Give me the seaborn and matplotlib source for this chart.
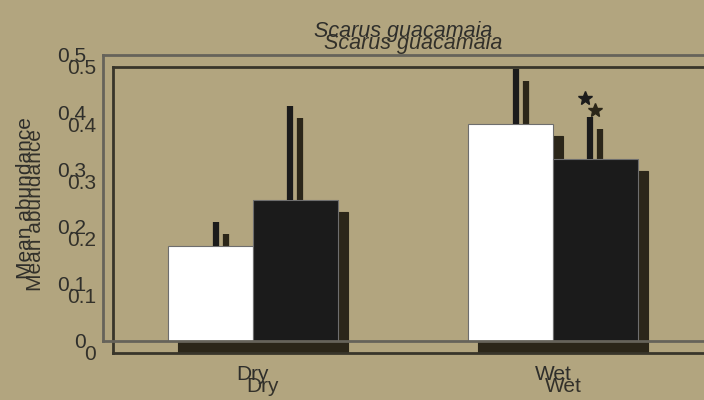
import matplotlib
matplotlib.use('Agg')
import matplotlib.pyplot as plt
import numpy as np
import pandas as pd
import seaborn as sns

# values
seasons = ['Dry', 'Wet']
groups = ['open', 'closed']
means_open = [0.166, 0.380]
means_closed = [0.246, 0.318]
upper_open = [0.208, 0.476]
upper_closed = [0.411, 0.392]
star_season = 'Wet'
star_group = 'closed'
y_ticks = [0, 0.1, 0.2, 0.3, 0.4, 0.5]
y_tick_labels = ['0', '0.1', '0.2', '0.3', '0.4', '0.5']
title = 'Scarus guacamaia'
y_label = 'Mean abundance'

BG = '#b2a57f'
W, H = 704, 400

df = pd.DataFrame({
    'season': seasons * 2,
    'group': [groups[0]] * 2 + [groups[1]] * 2,
    'mean': means_open + means_closed,
    'upper': upper_open + upper_closed,
})


def draw(ax, bar_colors, bar_edge, err_color, text_color, spine_color):
    sns.barplot(data=df, x='season', y='mean', hue='group', order=seasons,
                hue_order=groups, palette=bar_colors, width=0.567, gap=0,
                edgecolor=bar_edge, linewidth=0.8, saturation=1,
                legend=False, errorbar=None, ax=ax)
    # one-sided error bars, nudged toward the group centre
    for i, season in enumerate(seasons):
        for j, g in enumerate(groups):
            row = df[(df.season == season) & (df.group == g)].iloc[0]
            off = (-0.1417 + 0.02) if j == 0 else (0.1417 - 0.018)
            ax.vlines(i + off, row['mean'], row['upper'], color=err_color,
                      lw=4.5, zorder=1)
            if season == star_season and g == star_group:
                ax.plot(i + off - 0.018, row['upper'] + 0.032, marker='*',
                        ms=10, color=err_color, mec=err_color)
    ax.set_xlim(-0.5, 1.5)
    ax.set_ylim(0, 0.5)
    ax.set_yticks(y_ticks)
    ax.set_yticklabels(y_tick_labels)
    ax.set_xlabel('')
    ax.set_ylabel(y_label, fontsize=15, color=text_color, labelpad=16)
    ax.set_title(title, style='italic', fontsize=15.5, color=text_color, pad=13)
    ax.tick_params(axis='y', labelsize=15, colors=spine_color, labelcolor=text_color,
                   length=3, width=1, pad=9)
    ax.tick_params(axis='x', labelsize=15, labelcolor=text_color, length=0, pad=17)
    ax.set_facecolor('none')
    for side in ['left', 'top', 'bottom']:
        ax.spines[side].set_color(spine_color)
        ax.spines[side].set_linewidth(2)
    ax.spines['right'].set_visible(False)


sns.set_style('white')
plt.rcParams['font.family'] = ['Liberation Sans', 'DejaVu Sans']

fig = plt.figure(figsize=(W / 100, H / 100), dpi=100)
fig.patch.set_facecolor(BG)

ghost = fig.add_axes([113 / W, (H - 353) / H, 600 / W, 286 / H])
draw(ghost, ['#2b2619', '#2b2619'], '#2b2619', '#2b2619', '#33312a', '#38352a')

main = fig.add_axes([103 / W, (H - 341) / H, 600 / W, 286 / H])
draw(main, ['#ffffff', '#1b1b1b'], '#6e6e6e', '#1b1b1b', '#2e2e2b', '#66635a')

fig.savefig('out.png', dpi=100, facecolor=BG)
